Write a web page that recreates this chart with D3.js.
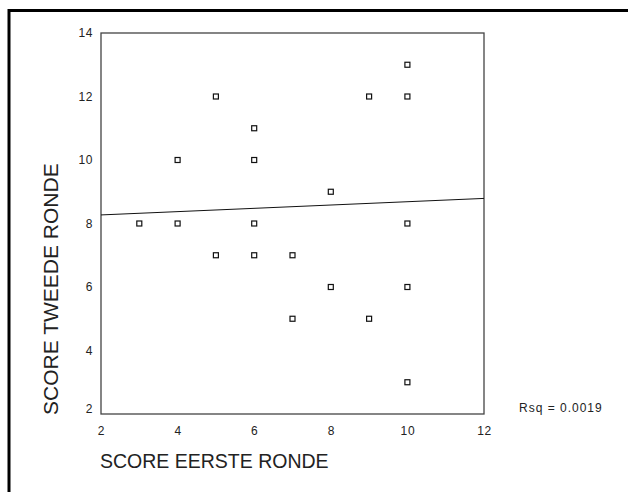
<!DOCTYPE html>
<html>
<head>
<meta charset="utf-8">
<script src="https://cdn.jsdelivr.net/npm/d3@7"></script>
<style>
  body { margin: 0; background: #fff; }
  svg { display: block; font-family: "Liberation Sans", Arial, sans-serif; }
</style>
</head>
<body>
<svg id="chart" width="628" height="492"></svg>
<script>
// scores
const scoreEerste = [3, 4, 4, 5, 5, 6, 6, 6, 6, 7, 7, 8, 8, 9, 9, 10, 10, 10, 10, 10]
const scoreTweede = [8, 10, 8, 12, 7, 11, 10, 8, 7, 7, 5, 9, 6, 12, 5, 13, 12, 8, 6, 3]
const xTicks = [2, 4, 6, 8, 10, 12]
const yTicks = [2, 4, 6, 8, 10, 12, 14]
// fit line end points
const fitX = [2, 12]
const fitY = [8.27, 8.79]
const rsqLabel = 'Rsq = 0.0019'

const svg = d3.select('#chart')
const box = { left: 101, right: 484, top: 33, bottom: 414 }

const x = d3.scaleLinear().domain([2, 12]).range([box.left, box.right])
const y = d3.scaleLinear().domain([2, 14]).range([box.bottom, box.top])

// outer frame, runs off the right and bottom edge
svg.append('rect')
  .attr('x', 9).attr('y', 10.5)
  .attr('width', 660).attr('height', 520)
  .attr('fill', 'none')
  .attr('stroke', '#000')
  .attr('stroke-width', 3)

svg.append('rect')
  .attr('x', box.left).attr('y', box.top)
  .attr('width', box.right - box.left).attr('height', box.bottom - box.top)
  .attr('fill', 'none')
  .attr('stroke', '#444')
  .attr('stroke-width', 1.3)

const xAxis = svg.append('g')
  .attr('transform', `translate(0,${box.bottom})`)
  .call(d3.axisBottom(x).tickValues(xTicks).tickSize(0).tickPadding(12).tickFormat(d3.format('d')))
xAxis.select('.domain').remove()

const yAxis = svg.append('g')
  .attr('transform', `translate(${box.left},0)`)
  .call(d3.axisLeft(y).tickValues(yTicks).tickSize(0).tickPadding(8).tickFormat(d3.format('d')))
yAxis.select('.domain').remove()

svg.selectAll('.tick text')
  .attr('font-family', '"Liberation Sans", Arial, sans-serif')
  .attr('font-size', 12)
  .attr('letter-spacing', 0.6)
  .attr('fill', '#222')

// lowest y label sits a bit higher in the original
yAxis.selectAll('.tick').filter(d => d === 2).select('text').attr('dy', '-0.1em')

const line = d3.line().x(d => x(d[0])).y(d => y(d[1]))
svg.append('path')
  .datum(fitX.map((v, i) => [v, fitY[i]]))
  .attr('d', line)
  .attr('fill', 'none')
  .attr('stroke', '#111')
  .attr('stroke-width', 1)

svg.selectAll('.pt')
  .data(scoreEerste.map((v, i) => [v, scoreTweede[i]]))
  .enter().append('rect')
  .attr('class', 'pt')
  .attr('x', d => x(d[0]) - 2.5)
  .attr('y', d => y(d[1]) - 2.5)
  .attr('width', 5).attr('height', 5)
  .attr('fill', '#fff')
  .attr('stroke', '#111')
  .attr('stroke-width', 1.2)

svg.append('text')
  .attr('x', 519).attr('y', 412)
  .attr('font-size', 12)
  .attr('letter-spacing', 1)
  .attr('fill', '#222')
  .text(rsqLabel)

svg.append('text')
  .attr('x', 100).attr('y', 468)
  .attr('font-size', 19.5)
  .attr('fill', '#222')
  .text('SCORE EERSTE RONDE')

svg.append('text')
  .attr('transform', 'translate(58,415) rotate(-90)')
  .attr('font-size', 21)
  .attr('fill', '#222')
  .text('SCORE TWEEDE RONDE')
</script>
</body>
</html>
